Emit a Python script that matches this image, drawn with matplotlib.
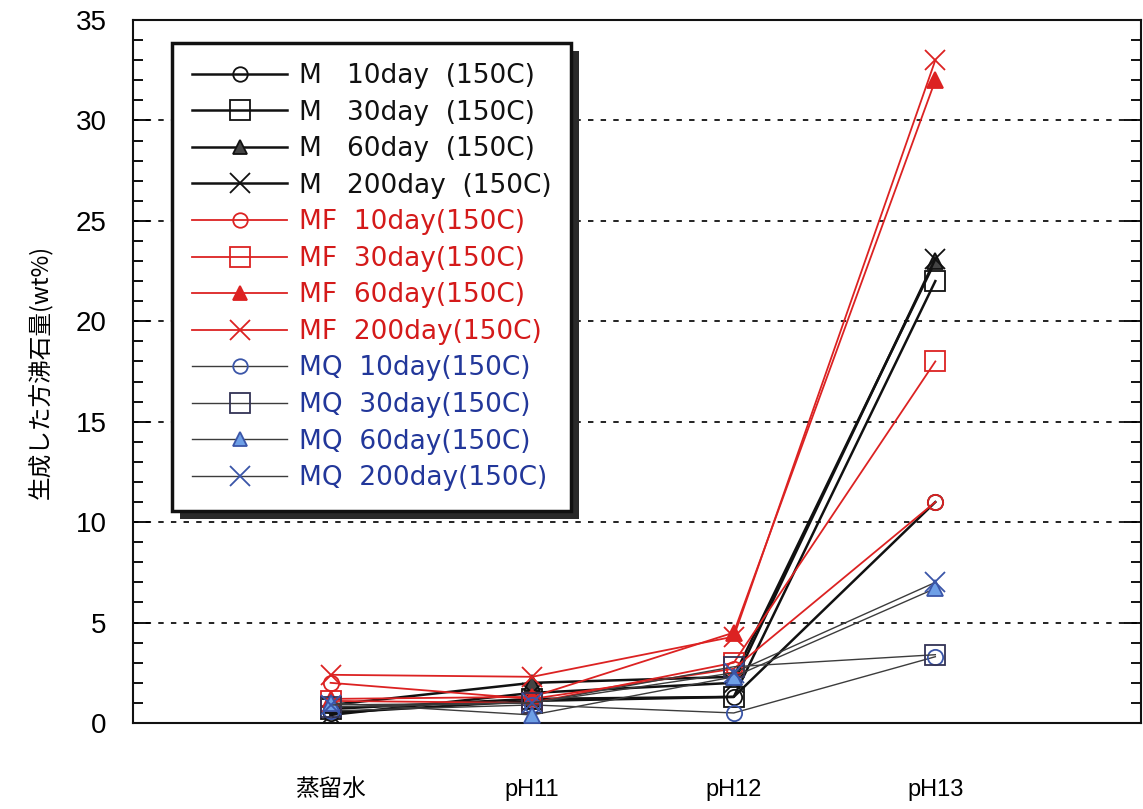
import matplotlib.pyplot as plt
from matplotlib.patches import Rectangle
from matplotlib.ticker import MultipleLocator

plt.rcParams['font.family'] = ['Liberation Sans', 'Noto Sans CJK JP', 'DejaVu Sans']

categories = ['蒸留水', 'pH11', 'pH12', 'pH13']

# zeolite formed (wt%) per sample and curing time
m_10 = [0.5, 1.1, 1.3, 11.0]
m_30 = [0.7, 1.2, 1.3, 22.0]
m_60 = [0.9, 2.0, 2.3, 23.0]
m_200 = [0.4, 1.5, 2.0, 23.1]
mf_10 = [2.0, 1.2, 2.7, 11.0]
mf_30 = [1.1, 1.0, 3.0, 18.0]
mf_60 = [1.2, 1.3, 4.5, 32.0]
mf_200 = [2.4, 2.3, 4.3, 33.0]
mq_10 = [0.6, 0.9, 0.5, 3.3]
mq_30 = [0.8, 1.0, 2.8, 3.4]
mq_60 = [1.0, 0.4, 2.3, 6.7]
mq_200 = [0.9, 1.0, 2.5, 7.0]

labels = ['M   10day  (150C)', 'M   30day  (150C)', 'M   60day  (150C)', 'M   200day  (150C)',
          'MF  10day(150C)', 'MF  30day(150C)', 'MF  60day(150C)', 'MF  200day(150C)',
          'MQ  10day(150C)', 'MQ  30day(150C)', 'MQ  60day(150C)', 'MQ  200day(150C)']

BLACK = '#111111'
RED = '#dc2222'
BLUE = '#3a55a8'
LIGHTBLUE = '#6e9fe6'
GREY = '#3c3c3c'

series = [
    (m_10, 'o', BLACK, BLACK, 'none', 1.8, 11),
    (m_30, 's', BLACK, BLACK, 'none', 1.8, 15),
    (m_60, '^', BLACK, BLACK, '#444444', 1.8, 11),
    (m_200, 'x', BLACK, BLACK, 'none', 1.8, 15),
    (mf_10, 'o', RED, RED, 'none', 1.3, 11),
    (mf_30, 's', RED, RED, 'none', 1.3, 15),
    (mf_60, '^', RED, RED, RED, 1.3, 11),
    (mf_200, 'x', RED, RED, 'none', 1.3, 15),
    (mq_10, 'o', GREY, BLUE, 'none', 1.0, 11),
    (mq_30, 's', GREY, '#333355', 'none', 1.0, 15),
    (mq_60, '^', GREY, BLUE, LIGHTBLUE, 1.0, 11),
    (mq_200, 'x', GREY, BLUE, 'none', 1.0, 15),
]
text_colors = [BLACK] * 4 + ['#d41a1a'] * 4 + ['#22379a'] * 4

fig = plt.figure(figsize=(11.43, 8.09), dpi=100)
ax = fig.add_axes([0.1164, 0.1063, 0.8818, 0.869])

x = list(range(len(categories)))
handles = []
for (vals, mk, lc, mec, mfc, lw, ms), lab in zip(series, labels):
    h, = ax.plot(x, vals, color=lc, lw=lw, marker=mk, markersize=ms,
                 markeredgecolor=mec, markerfacecolor=mfc, markeredgewidth=1.3,
                 label=lab, zorder=3)
    handles.append(h)

ax.set_xlim(-0.98, 4.02)
ax.set_ylim(0, 35)
ax.set_xticks(x)
ax.set_xticklabels(categories, fontsize=17)
ax.tick_params(axis='x', length=0, pad=40)
ax.yaxis.set_major_locator(MultipleLocator(5))
ax.yaxis.set_minor_locator(MultipleLocator(1))
ax.tick_params(axis='y', which='both', direction='in', left=True, right=True,
               labelsize=20, pad=19)
ax.tick_params(axis='y', which='major', length=12, width=1.3)
ax.tick_params(axis='y', which='minor', length=7, width=1.3)
for s in ax.spines.values():
    s.set_linewidth(1.5)
    s.set_color(BLACK)

for yv in range(5, 35, 5):
    ax.axhline(yv, color=BLACK, lw=1.3, ls=(0, (3, 4)), zorder=1)

ax.set_ylabel('生成した方沸石量(wt%)', fontsize=17, family=['Noto Sans CJK JP'], labelpad=17)

leg = ax.legend(handles=handles, loc='upper left', bbox_to_anchor=(0.039, 0.967),
                prop={'family': ['DejaVu Sans'], 'size': 19},
                handlelength=3.6, handletextpad=0.45, labelspacing=0.4,
                borderpad=0.75, borderaxespad=0, fancybox=False, framealpha=1,
                edgecolor=BLACK, markerscale=0.95)
leg.get_frame().set_linewidth(2.5)
leg.set_zorder(10)
for t, c in zip(leg.get_texts(), text_colors):
    t.set_color(c)

# drop shadow behind the legend box
fig.canvas.draw()
bb = leg.get_window_extent()
shadow = Rectangle((bb.x0 + 8, bb.y0 - 8), bb.width, bb.height, transform=None,
                   facecolor='#2a2a2a', edgecolor='none', zorder=9)
ax.add_artist(shadow)

fig.savefig('out.png', dpi=100)
